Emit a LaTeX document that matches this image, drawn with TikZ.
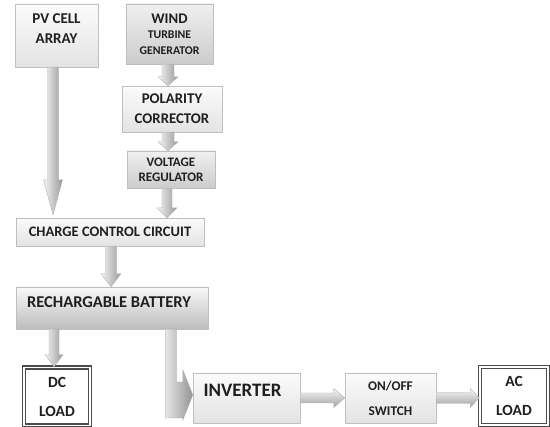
\documentclass[tikz,border=0pt]{standalone}
\usepackage{fontspec}
\setmainfont{Carlito}
\usetikzlibrary{calc,shadows}

\tikzset{
  fatdown/.style n args={3}{draw=gray!60, left color=gray!8, right color=gray!80,
    to path={let \p1=(\tikztostart), \p2=(\tikztotarget) in
      (\x1-#1,\y1) -- (\x1-#1,\y2+#3) -- (\x1-#2,\y2+#3) -- (\x1,\y2)
      -- (\x1+#2,\y2+#3) -- (\x1+#1,\y2+#3) -- (\x1+#1,\y1) -- cycle}},
  fatright/.style n args={3}{draw=gray!60, top color=gray!5, bottom color=gray!75,
    to path={let \p1=(\tikztostart), \p2=(\tikztotarget) in
      (\x1,\y1+#1) -- (\x2-#3,\y1+#1) -- (\x2-#3,\y1+#2) -- (\x2,\y1)
      -- (\x2-#3,\y1-#2) -- (\x2-#3,\y1-#1) -- (\x1,\y1-#1) -- cycle}},
  fatbend/.style={draw=gray!65, left color=gray!20, right color=gray!85,
    to path={let \p1=(\tikztostart), \p2=(\tikztotarget) in
      (\x1-5.5pt,\y1) -- (\x1+5.5pt,\y1) -- (\x1+5.5pt,\y2+16pt) -- (\x2-10pt,\y2+16pt)
      -- (\x2-10pt,\y2+28pt) -- (\x2,\y2+3pt) -- (\x2-10pt,\y2-22pt) -- (\x2-10pt,\y2-20pt)
      -- (\x1-5.5pt,\y2-20pt) -- cycle}}
}

\begin{document}
\begin{tikzpicture}[x=1pt, y=-1pt, node distance = 75pt,
  block/.style={draw=gray!50, top color=gray!3, bottom color=gray!22,
    drop shadow={shadow xshift=1.2pt, shadow yshift=-1.2pt, opacity=.35},
    font=\bfseries, text=black!88, align=center, inner sep=2pt},
  darkblock/.style={block, top color=gray!12, bottom color=gray!40},
  load/.style={draw=gray!60!black, line width=1.5pt, double=white, double distance=1.2pt,
    fill=white, font=\bfseries\fontsize{15.5}{29}\selectfont, text=black!88, align=center},
  txt/.style={font=\bfseries\fontsize{#1}{20}\selectfont, text=black!88, align=center}]
\useasboundingbox (0,0) rectangle (550,427);

\node[block, minimum width=83pt, minimum height=63pt,
  label={[txt=15, anchor=north, yshift=-6pt]north:PV CELL\\ARRAY}] (pv) at (56.5,35.5) {};
\node[darkblock, minimum width=87pt, minimum height=60pt, font=\bfseries\fontsize{11.8}{15.5}\selectfont] (wind) at (169.5,34)
  {{\fontsize{14.7}{17}\selectfont WIND}\\TURBINE\\GENERATOR};
\node[block, minimum width=100pt, minimum height=46pt, font=\bfseries\fontsize{14.8}{20}\selectfont,
  below of = wind, xshift=2.5pt] (pol) {POLARITY\\CORRECTOR};
\node[darkblock, minimum width=88pt, minimum height=37pt, font=\bfseries\fontsize{13}{15}\selectfont,
  below of = pol, node distance=60.5pt, xshift=-1pt] (volt) {VOLTAGE\\REGULATOR};
\node[block, minimum width=188pt, minimum height=28pt, font=\bfseries\fontsize{14.5}{17}\selectfont,
  below of = pv, node distance=196.5pt, xshift=53.5pt] (charge) {CHARGE CONTROL CIRCUIT};
\node[block, minimum width=192pt, minimum height=42pt, top color=gray!5, bottom color=gray!52,
  label={[txt=16.5, yshift=6pt, xshift=-3pt]center:RECHARGABLE BATTERY},
  below of = charge, node distance=76pt, xshift=2pt] (batt) {};
\node[load, minimum width=66pt, minimum height=58pt,
  below of = batt, node distance=88.5pt, xshift=-55pt] (dc) {DC\\LOAD};
\node[block, minimum width=107pt, minimum height=50pt,
  label={[txt=19, yshift=8pt, xshift=-4pt]center:INVERTER},
  right of = dc, node distance=189.5pt, yshift=-1.5pt] (inv) {};
\node[block, minimum width=91pt, minimum height=50pt, font=\bfseries\fontsize{13.3}{25}\selectfont,
  right of = inv, node distance=144pt] (sw) {ON/OFF\\SWITCH};
\node[load, minimum width=68pt, minimum height=58pt,
  right of = sw, node distance=123.5pt, yshift=2pt] (ac) {AC\\LOAD};

\path ([xshift=-3.5pt]pv.south) edge[fatdown={5.5pt}{9.5pt}{35pt}] ([yshift=3pt]charge.north)
  ([xshift=-1.5pt]wind.south) edge[fatdown={6pt}{10pt}{9pt}] (pol.north)
  ([xshift=-4pt]pol.south) edge[fatdown={6pt}{10pt}{9pt}] (volt.north)
  ([xshift=-4pt]volt.south) edge[fatdown={5pt}{10pt}{10pt}] (charge.north)
  ([xshift=1pt]charge.south) edge[fatdown={5.5pt}{10pt}{13pt}] (batt.north)
  ([xshift=-58pt]batt.south) edge[fatdown={5pt}{9pt}{12pt}] (dc.north)
  ([xshift=-37pt]batt.south east) edge[fatbend] (inv.west)
  (inv.east) edge[fatright={5pt}{9.5pt}{11pt}] (sw.west)
  (sw.east) edge[fatright={5.5pt}{9.5pt}{9pt}] (ac.west);
\end{tikzpicture}
\end{document}
